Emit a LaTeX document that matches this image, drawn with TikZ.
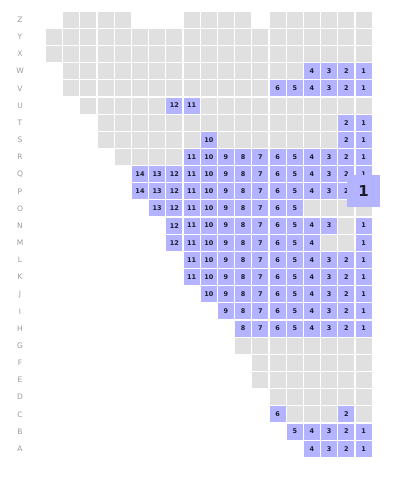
\documentclass[tikz,border=0pt]{standalone}
\usepackage{fontspec}
\setmainfont{DejaVu Sans}
\definecolor{seatgrey}{HTML}{E0E0E0}
\definecolor{seatblue}{HTML}{B3B3FF}
\definecolor{labgrey}{HTML}{9A9A9A}
\definecolor{numink}{HTML}{1A1A2A}
\newcommand\gseats[2]{\foreach \c in {#2}{\node[gseat] (s-#1-\c) at ({363.6-(\c-1)*17.2},{19.7+#1*17.16}) {};}}
\newcommand\bseats[2]{\foreach \c in {#2}{\node[bseat] (s-#1-\c) at ({363.6-(\c-1)*17.2},{19.7+#1*17.16}) {\c};}}
\newcommand\rowlab[2]{\node[rowlabel] (l-#2) at (20,{19.7+#1*17.16}) {#2};}
\begin{document}
\begin{tikzpicture}[x=1pt,y=-1pt,
  gseat/.style={fill=seatgrey, draw=none, minimum width=16pt, minimum height=16pt, inner sep=0pt},
  bseat/.style={fill=seatblue, draw=none, minimum width=16pt, minimum height=16pt, inner sep=0pt, font=\fontsize{6.5}{7}\selectfont\bfseries, text=numink},
  rowlabel/.style={text=labgrey, font=\fontsize{7.5}{8}\selectfont, inner sep=0pt},
  popup/.style={fill=seatblue, draw=none, minimum width=32.5pt, minimum height=32pt, inner sep=0pt, font=\fontsize{15}{16}\selectfont\bfseries, text=numink}]
\useasboundingbox (0,0) rectangle (411,485);
\foreach \i/\L in {0/Z,1/Y,2/X,3/W,4/V,5/U,6/T,7/S,8/R,9/Q,10/P,11/O,12/N,13/M,14/L,15/K,16/J,17/I,18/H,19/G,20/F,21/E,22/D,23/C,24/B,25/A}{\rowlab{\i}{\L}}
% Z
\gseats{0}{1,2,3,4,5,6,8,9,10,11,15,16,17,18}
% Y X
\gseats{1}{1,...,19}
\gseats{2}{1,...,19}
% W
\gseats{3}{5,...,18}
\bseats{3}{1,2,3,4}
% V
\gseats{4}{7,...,18}
\bseats{4}{1,...,6}
% U
\gseats{5}{1,...,10}
\gseats{5}{13,...,17}
\bseats{5}{11,12}
% T
\gseats{6}{3,...,16}
\bseats{6}{1,2}
% S
\gseats{7}{3,...,9}
\gseats{7}{11,...,16}
\bseats{7}{1,2,10}
% R
\gseats{8}{12,...,15}
\bseats{8}{1,...,11}
% Q P
\bseats{9}{1,...,14}
\bseats{10}{1,...,14}
% O
\gseats{11}{1,2,3,4}
\bseats{11}{5,...,13}
% N
\gseats{12}{2}
\bseats{12}{1,3,4,5,6,7,8,9,10,11,12}
% M
\gseats{13}{2,3}
\bseats{13}{1,4,5,6,7,8,9,10,11,12}
% L K J I H
\bseats{14}{1,...,11}
\bseats{15}{1,...,11}
\bseats{16}{1,...,10}
\bseats{17}{1,...,9}
\bseats{18}{1,...,8}
% G F E D
\gseats{19}{1,...,8}
\gseats{20}{1,...,7}
\gseats{21}{1,...,7}
\gseats{22}{1,...,6}
% C
\gseats{23}{1,3,4,5}
\bseats{23}{2,6}
% B A
\bseats{24}{1,...,5}
\bseats{25}{1,...,4}
% popup
\node[popup] (pop) at (363.7,190.9) {1};
\end{tikzpicture}
\end{document}
